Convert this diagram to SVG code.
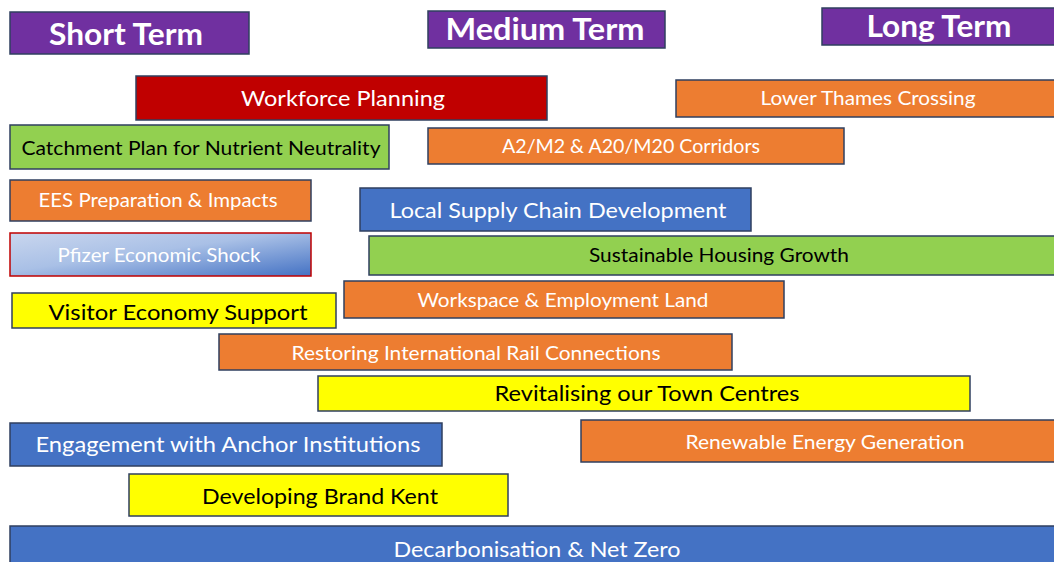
<svg xmlns="http://www.w3.org/2000/svg" width="1054" height="562" viewBox="0 0 1054 562">
<defs>
<linearGradient id="pfz" x1="0" y1="0" x2="1" y2="1">
<stop offset="0" stop-color="#C9D6EE"/>
<stop offset="0.45" stop-color="#A9C0E6"/>
<stop offset="1" stop-color="#4472C4"/>
</linearGradient>
<style>
rect{stroke:#2F3F5F;stroke-width:1.5}
.hdr{fill:#7030A0}
.red{fill:#C00000}
.org{fill:#ED7D31}
.grn{fill:#92D050}
.blu{fill:#4472C4}
.yel{fill:#FFFF00}
text{font-family:Lato,"Liberation Sans",Arial,sans-serif;text-anchor:middle}
.h{font-weight:bold;font-size:30px;fill:#fff}
.w{fill:#fff}
.k{fill:#000}
.s18{font-size:19px}
.s19{font-size:20px}
.s21{font-size:22px}
</style>
</defs>
<rect x="0" y="0" width="1054" height="562" fill="#fff" style="stroke:none"/>
<g id="short-term"><rect class="hdr" x="10" y="12" width="239" height="42"/><text class="h" x="126" y="45" textLength="154" lengthAdjust="spacingAndGlyphs">Short Term</text></g>
<g id="medium-term"><rect class="hdr" x="428" y="11" width="237" height="37"/><text class="h" x="545" y="40" textLength="199" lengthAdjust="spacingAndGlyphs">Medium Term</text></g>
<g id="long-term"><rect class="hdr" x="822" y="8" width="240" height="37"/><text class="h" x="939" y="37" textLength="145" lengthAdjust="spacingAndGlyphs">Long Term</text></g>
<g id="workforce-planning"><rect class="red" x="136" y="76" width="411" height="44"/><text class="w s21" x="343" y="106" textLength="204" lengthAdjust="spacingAndGlyphs">Workforce Planning</text></g>
<g id="lower-thames-crossing"><rect class="org" x="676" y="80" width="390" height="37"/><text class="w s18" x="868" y="105" textLength="215" lengthAdjust="spacingAndGlyphs">Lower Thames Crossing</text></g>
<g id="catchment-plan"><rect class="grn" x="10" y="125" width="379" height="44"/><text class="k s19" x="201" y="155" textLength="359" lengthAdjust="spacingAndGlyphs">Catchment Plan for Nutrient Neutrality</text></g>
<g id="a2-m2-corridors"><rect class="org" x="428" y="128" width="416" height="36"/><text class="w s18" x="631" y="153" textLength="258" lengthAdjust="spacingAndGlyphs">A2/M2 &amp; A20/M20 Corridors</text></g>
<g id="ees-preparation"><rect class="org" x="10" y="180" width="301" height="41"/><text class="w s18" x="158" y="207" textLength="239" lengthAdjust="spacingAndGlyphs">EES Preparation &amp; Impacts</text></g>
<g id="local-supply-chain"><rect class="blu" x="360" y="188" width="391" height="43"/><text class="w s21" x="558" y="218" textLength="337" lengthAdjust="spacingAndGlyphs">Local Supply Chain Development</text></g>
<g id="pfizer-shock"><rect fill="url(#pfz)" style="stroke:#C00000" x="10" y="233" width="301" height="43"/><text class="w s19" x="159" y="262" textLength="203" lengthAdjust="spacingAndGlyphs">Pfizer Economic Shock</text></g>
<g id="sustainable-housing"><rect class="grn" x="369" y="236" width="697" height="39"/><text class="k s19" x="719" y="262" textLength="260" lengthAdjust="spacingAndGlyphs">Sustainable Housing Growth</text></g>
<g id="visitor-economy"><rect class="yel" x="12" y="293" width="324" height="35"/><text class="k s21" x="178" y="320" textLength="259" lengthAdjust="spacingAndGlyphs">Visitor Economy Support</text></g>
<g id="workspace-land"><rect class="org" x="344" y="281" width="440" height="37"/><text class="w s18" x="563" y="307" textLength="291" lengthAdjust="spacingAndGlyphs">Workspace &amp; Employment Land</text></g>
<g id="international-rail"><rect class="org" x="219" y="334" width="513" height="36"/><text class="w s18" x="476" y="360" textLength="369" lengthAdjust="spacingAndGlyphs">Restoring International Rail Connections</text></g>
<g id="town-centres"><rect class="yel" x="318" y="376" width="652" height="35"/><text class="k s21" x="647" y="401" textLength="305" lengthAdjust="spacingAndGlyphs">Revitalising our Town Centres</text></g>
<g id="anchor-institutions"><rect class="blu" x="10" y="423" width="432" height="43"/><text class="w s21" x="228" y="452" textLength="385" lengthAdjust="spacingAndGlyphs">Engagement with Anchor Institutions</text></g>
<g id="renewable-energy"><rect class="org" x="581" y="420" width="485" height="42"/><text class="w s18" x="825" y="449" textLength="279" lengthAdjust="spacingAndGlyphs">Renewable Energy Generation</text></g>
<g id="brand-kent"><rect class="yel" x="129" y="474" width="379" height="42"/><text class="k s21" x="320" y="504" textLength="236" lengthAdjust="spacingAndGlyphs">Developing Brand Kent</text></g>
<g id="decarbonisation"><rect class="blu" x="10" y="526" width="1056" height="50"/><text class="w s21" x="537" y="557" textLength="287" lengthAdjust="spacingAndGlyphs">Decarbonisation &amp; Net Zero</text></g>
<g id="connectors"></g>
</svg>
